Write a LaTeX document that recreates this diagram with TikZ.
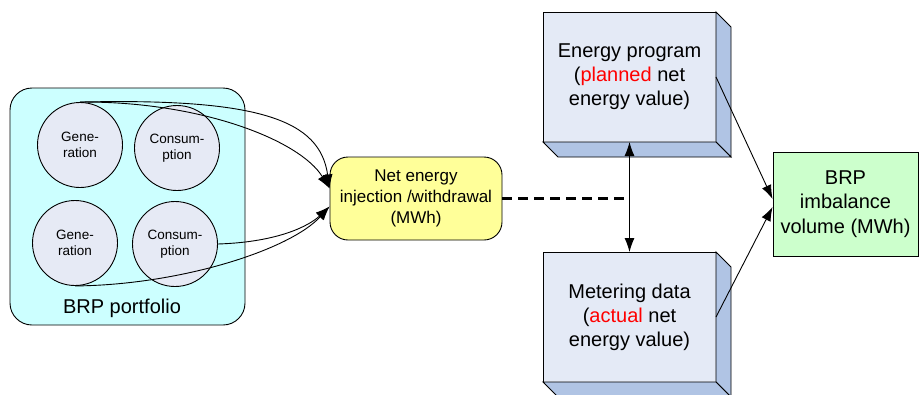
\documentclass[tikz,border=0pt]{standalone}
\usepackage{fontspec}
\setmainfont{Liberation Sans}
\usetikzlibrary{arrows.meta, calc, positioning}
\definecolor{portcyan}{HTML}{CCFFFF}
\definecolor{unitgray}{HTML}{E6EAF5}
\definecolor{netyellow}{HTML}{FFFF99}
\definecolor{imbgreen}{HTML}{CCFFCC}
\definecolor{facefront}{HTML}{E4EAF6}
\definecolor{faceside}{HTML}{B0C4E4}
\newcommand{\figArrow}{{Latex[length=14pt, width=10pt]}}

\begin{document}
\begin{tikzpicture}[x=1pt, y=-1pt, line width=0.9pt,
	unit/.style={circle, draw, fill=unitgray, minimum size=85pt, inner sep=0pt, align=center, font=\fontsize{13.5}{16}\selectfont},
	front/.style={draw, fill=facefront, minimum width=173pt, minimum height=130pt, outer sep=0pt, align=center, font=\fontsize{20}{24}\selectfont},
	side/.style={draw, fill=faceside}]
	\def\Dp{15}
	\useasboundingbox (0,0) rectangle (920,394);
	
	% portfolio with its units
	\node[draw, fill=portcyan, rounded corners=22pt, minimum width=235pt, minimum height=237pt] (portfolio) at (127.5,206.5) {};
	\node[anchor=base, font=\fontsize{20}{24}\selectfont] (portlabel) at (122,313) {BRP portfolio};
	\node[unit] (gen1) at (80,145) {Gene-\\ration};
	\node[unit] (cons1) at (177,148) {Consum-\\ption};
	\node[unit] (gen2) at (75,243) {Gene-\\ration};
	\node[unit] (cons2) at (175,244) {Consum-\\ption};
	
	\node[draw, fill=netyellow, rounded corners=18pt, minimum width=172pt, minimum height=83pt, align=center, font=\fontsize{17}{21}\selectfont] (netinj) at (416,198.5) {Net energy\\injection /withdrawal\\(MWh)};
	
	% boxes drawn with depth
	\node[front] (enprog) at (629.5,77) {Energy program\\(\textcolor{red}{planned} net\\energy value)};
	\node[front] (metering) at (629.5,317) {Metering data\\(\textcolor{red}{actual} net\\energy value)};
	\foreach \b in {enprog, metering} {
		\draw[side] (\b.north east) -- ++(\Dp,\Dp) -- ($(\b.south east)+(\Dp,\Dp)$) -- (\b.south east) -- cycle;
		\draw[side] (\b.south west) -- ++(\Dp,\Dp) -- ($(\b.south east)+(\Dp,\Dp)$) -- (\b.south east) -- cycle;
	}
	
	\node[draw, fill=imbgreen, minimum width=145pt, minimum height=104pt, align=center, font=\fontsize{20}{24.5}\selectfont] (imbalance) at (845.5,204) {BRP\\imbalance\\volume (MWh)};
	
	% connectors
	\coordinate (netin1) at ($(netinj.west)+(0,-10)$);
	\coordinate (netin2) at ($(netinj.west)+(0,8)$);
	\draw[-\figArrow] (gen1.north) .. controls (260,98) and (320,120) .. (netin1);
	\draw[-\figArrow] (gen1.north) .. controls (200,101) and (300,140) .. (netin1);
	\draw[-\figArrow] (cons2.east) .. controls (280,242) and (310,225) .. (netin2);
	\draw[-\figArrow] (gen2.south) .. controls (180,285) and (290,250) .. (netin2);
	
	\coordinate (dashend) at (enprog.south |- netinj.east);
	\draw[line width=2.2pt, dash pattern=on 10pt off 6pt] (netinj.east) -- (dashend);
	\draw[\figArrow-\figArrow] (enprog.south) -- (metering.north);
	
	\draw[-\figArrow] (enprog.east) -- ($(imbalance.west)+(0,-5)$);
	\draw[-\figArrow] (metering.east) -- ($(imbalance.west)+(0,3)$);
\end{tikzpicture}
\end{document}
